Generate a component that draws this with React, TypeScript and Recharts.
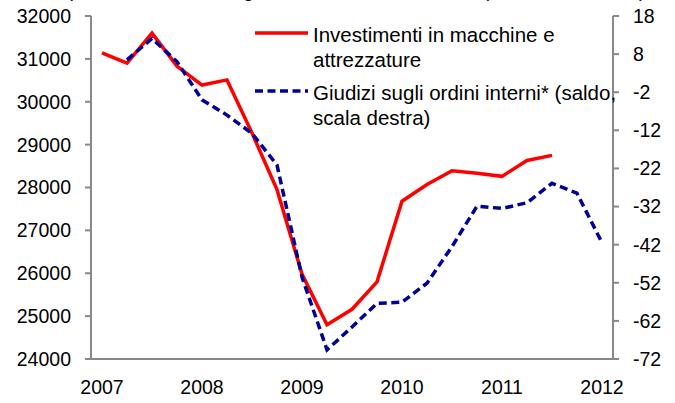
import React from 'react';
import { LineChart, Line, XAxis, YAxis, Legend } from 'recharts';

const quarters = [
  '2007Q1', '2007Q2', '2007Q3', '2007Q4',
  '2008Q1', '2008Q2', '2008Q3', '2008Q4',
  '2009Q1', '2009Q2', '2009Q3', '2009Q4',
  '2010Q1', '2010Q2', '2010Q3', '2010Q4',
  '2011Q1', '2011Q2', '2011Q3', '2011Q4',
  '2012Q1',
];

const investimenti = [
  31140, 30900, 31600, 30830,
  30390, 30510, 29270, 27950,
  25980, 24800, 25160, 25800,
  27680, 28070, 28390, 28330,
  28260, 28630, 28750, null,
  null,
];

const giudizi = [
  null, 6.5, 12.1, 6.0,
  -4.0, -8.0, -12.8, -21.1,
  -50.5, -69.6, -63.6, -57.4,
  -57.1, -52.1, -42.5, -31.9,
  -32.5, -31.0, -25.9, -28.5,
  -41.5,
];

const yearTicks = ['2007Q1', '2008Q1', '2009Q1', '2010Q1', '2011Q1', '2012Q1'];
const leftTicks = [24000, 25000, 26000, 27000, 28000, 29000, 30000, 31000, 32000];
const rightTicks = [18, 8, -2, -12, -22, -32, -42, -52, -62, -72];

const seriesNames = {
  inv: 'Investimenti in macchine e\nattrezzature',
  giu: 'Giudizi sugli ordini interni* (saldo,\nscala destra)',
};
const legendOrder = ['inv', 'giu'];
const topNote = '(dati trimestrali destagionalizzati; milioni di euro a prezzi concatenati)';

const data = quarters.map((q, i) => ({ q, inv: investimenti[i], giu: giudizi[i] }));

const FONT = '"Liberation Sans", Arial, sans-serif';
const AXIS = '#888888';
const RED = '#ff0000';
const BLUE = '#000099';
const TICK_FONT = 19.5;

const lineStyles: Record<string, { color: string; dash?: string }> = {
  inv: { color: RED },
  giu: { color: BLUE, dash: '8 4.5' },
};

const LegendContent = (props: any) => {
  const payload = [...(props.payload || [])].sort(
    (a: any, b: any) => legendOrder.indexOf(a.dataKey) - legendOrder.indexOf(b.dataKey)
  );
  return (
    <div style={{ fontFamily: FONT, fontSize: 20.5, color: '#000', textAlign: 'left' }}>
      {payload.map((entry: any, idx: number) => {
        const key = entry.dataKey as string;
        const st = lineStyles[key] || { color: entry.color };
        return (
          <div key={key} style={{ display: 'flex', alignItems: 'flex-start', marginTop: idx === 0 ? 0 : 8 }}>
            <svg width={58} height={25} style={{ display: 'block', flex: 'none' }}>
              <line x1={0} y1={11} x2={53} y2={11} stroke={st.color} strokeWidth={3.5} strokeDasharray={st.dash} />
            </svg>
            <div style={{ whiteSpace: 'pre-line', lineHeight: '25px' }}>{entry.value}</div>
          </div>
        );
      })}
    </div>
  );
};

export default function App() {
  return (
    <div style={{ position: 'absolute', left: 0, top: 0, width: 675, height: 403, overflow: 'hidden', background: '#fff' }}>
      <div style={{ position: 'absolute', left: 0, top: -19, width: 712, textAlign: 'center', fontFamily: FONT, fontSize: 19, lineHeight: '20px', whiteSpace: 'nowrap', color: '#000' }}>
        {topNote}
      </div>
      <LineChart width={675} height={403} data={data} margin={{ top: 16, right: 0, bottom: 0, left: 0 }} style={{ fontFamily: FONT }}>
        <XAxis xAxisId="top" orientation="top" dataKey="q" tick={false} tickLine={false} height={0} padding={{ left: 11, right: 11 }} axisLine={{ stroke: AXIS, strokeWidth: 2 }} />
        <XAxis
          dataKey="q"
          ticks={yearTicks}
          interval={0}
          tickFormatter={(v: string) => v.slice(0, 4)}
          padding={{ left: 11, right: 11 }}
          tickLine={false}
          tickSize={0}
          tickMargin={21}
          height={44}
          axisLine={{ stroke: AXIS, strokeWidth: 2 }}
          tick={{ fill: '#000', fontSize: TICK_FONT }}
        />
        <YAxis
          yAxisId="left"
          domain={[24000, 32000]}
          ticks={leftTicks}
          interval={0}
          width={91}
          tickSize={6}
          tickMargin={14}
          axisLine={{ stroke: AXIS, strokeWidth: 2 }}
          tickLine={{ stroke: AXIS, strokeWidth: 2 }}
          tick={{ fill: '#000', fontSize: TICK_FONT }}
        />
        <YAxis
          yAxisId="right"
          orientation="right"
          domain={[-72, 18]}
          ticks={rightTicks}
          interval={0}
          width={62}
          tickSize={6}
          tickMargin={14}
          axisLine={{ stroke: AXIS, strokeWidth: 2 }}
          tickLine={{ stroke: AXIS, strokeWidth: 2 }}
          tick={{ fill: '#000', fontSize: TICK_FONT }}
        />
        <Legend
          verticalAlign="middle"
          align="center"
          layout="horizontal"
          content={<LegendContent />}
          wrapperStyle={{ top: 22, left: 255, width: 410 }}
        />
        <Line yAxisId="left" dataKey="inv" name={seriesNames.inv} stroke={RED} strokeWidth={3.5} dot={false} activeDot={false} isAnimationActive={false} type="linear" />
        <Line yAxisId="right" dataKey="giu" name={seriesNames.giu} stroke={BLUE} strokeWidth={3.5} strokeDasharray="8 4.5" dot={false} activeDot={false} isAnimationActive={false} type="linear" />
      </LineChart>
    </div>
  );
}
